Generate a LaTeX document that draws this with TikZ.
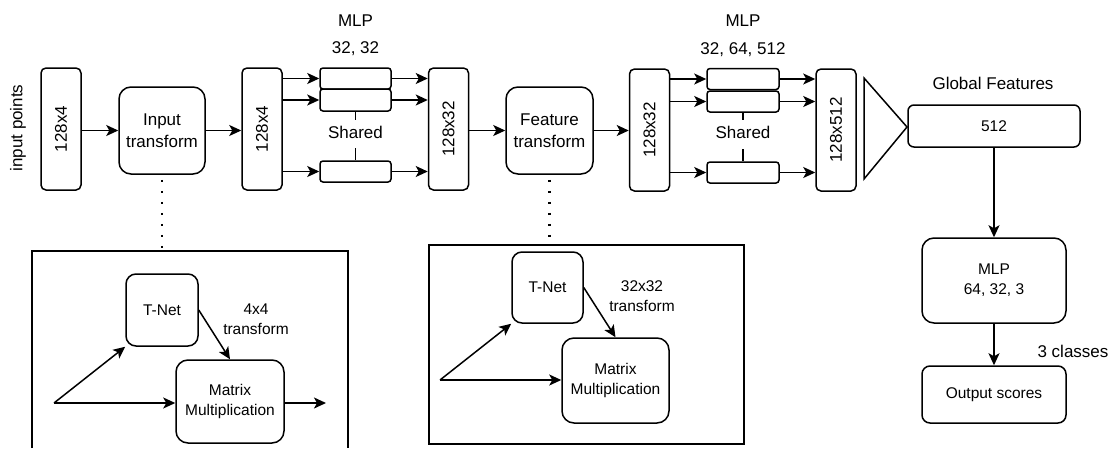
\documentclass[tikz,border=0pt]{standalone}
\usepackage{fontspec}
\setmainfont{Liberation Sans}
\usetikzlibrary{arrows.meta}

\begin{document}
\begin{tikzpicture}[x=1pt,y=-1pt,line width=1.5pt,
  every node/.style={font=\fontsize{17}{22}\selectfont,inner sep=0pt,align=center},
  small/.style={font=\fontsize{15.5}{20}\selectfont},
  tall/.style={draw,rounded corners=5pt,minimum width=40pt,minimum height=122pt},
  layer/.style={draw,rounded corners=3pt,minimum width=71pt,minimum height=21pt},
  block/.style={draw,rounded corners=12pt},
  arr/.style={-{Stealth[length=12pt,width=11pt,inset=3pt]}},
  dots/.style={line width=2.5pt,dash pattern=on 2.5pt off 8.5pt,dash phase=-5pt},
  frame/.style={line width=1.4pt}]
\useasboundingbox (0,0) rectangle (1109,448);

% input side
\node[rotate=90] (inpts) at (18,128) {input points};
\node[tall] (b1) at (61,129) {\rotatebox{90}{128x4}};
\node[block,minimum width=86pt,minimum height=87pt] (inT) at (162,130.5) {Input\\transform};
\node[tall] (b2) at (262,129) {\rotatebox{90}{128x4}};

% first shared MLP
\node (mlp1) at (355.5,21) {MLP};
\node (mlp1d) at (355.5,49) {32, 32};
\node[layer] (m1a) at (355.5,78.5) {};
\node[layer,minimum height=22pt] (m1b) at (355.5,100) {};
\node[layer] (m1c) at (355.5,171.5) {};
\node (sh1) at (355.5,132) {Shared};
\node[tall] (b3) at (448.5,129) {\rotatebox{90}{128x32}};

% feature transform
\node[block,minimum width=87pt,minimum height=87pt] (featT) at (549.5,130.5) {Feature\\transform};
\node[tall] (b4) at (649.5,130) {\rotatebox{90}{128x32}};

% second shared MLP
\node (mlp2) at (743,21) {MLP};
\node (mlp2d) at (743,50) {32, 64, 512};
\node[layer,minimum width=72pt] (m2a) at (743,79) {};
\node[layer,minimum width=72pt,minimum height=21pt] (m2b) at (743,101.5) {};
\node[layer,minimum width=72pt] (m2c) at (743,172.5) {};
\node (sh2) at (743,132) {Shared};
\node[tall] (b5) at (836,130) {\rotatebox{90}{128x512}};

% max pooling and classifier head
\draw (864,78) -- (907,127) -- (864,179) -- cycle;
\node (gfl) at (993,83) {Global Features};
\node[draw,rounded corners=6pt,minimum width=172pt,minimum height=42pt,small] (glob) at (994,126) {512};
\node[block,small,minimum width=144pt,minimum height=85pt] (mlpO) at (994,280.5) {MLP\\64, 32, 3};
\node[draw,rounded corners=8pt,small,minimum width=144pt,minimum height=57pt] (out) at (994,394.5) {Output scores};
\node (cls) at (1073,351) {3 classes};

% main connectors
\draw[arr] (b1.east |- inT) -- (inT.west);
\draw[arr] (inT.east) -- (inT.east -| b2.west);
\foreach \m in {m1a,m1b,m1c}{
  \draw[arr] (b2.east |- \m) -- (\m.west);
  \draw[arr] (\m.east) -- (\m.east -| b3.west);
}
\draw[arr] (b3.east |- featT) -- (featT.west);
\draw[arr] (featT.east) -- (featT.east -| b4.west);
\foreach \m in {m2a,m2b,m2c}{
  \draw[arr] (b4.east |- \m) -- (\m.west);
  \draw[arr] (\m.east) -- (\m.east -| b5.west);
}
\draw (m1b.south) -- (sh1.north |- 0,120);
\draw (sh1.south |- 0,148) -- (m1c.north);
\draw (m2b.south) -- (sh2.north |- 0,120);
\draw (sh2.south |- 0,149) -- (m2c.north);
\draw[arr] (glob.south) -- (mlpO.north);
\draw[arr] (mlpO.south) -- (out.north);

% input transform detail
\coordinate (f1top) at (162,251);
\draw[frame] (32,448) -- (32,251) -- (348,251) -- (348,448);
\draw[dots] (inT.south) -- (f1top);
\node[draw,rounded corners=10pt,small,minimum width=72pt,minimum height=72pt] (tn1) at (162,310) {T-Net};
\node[block,small,minimum width=108pt,minimum height=83pt] (mm1) at (230,401.5) {Matrix\\Multiplication};
\node[small] (t1) at (256,319) {4x4\\transform};
\coordinate (s1) at (54,403);
\coordinate (e1) at (326,403);
\draw[arr] (s1) -- (tn1.south west);
\draw[arr] (s1) -- (s1 -| mm1.west);
\draw[arr] (mm1.east |- e1) -- (e1);
\draw[arr] (tn1.east) -- (mm1.north);

% feature transform detail
\node[draw,frame,minimum width=315pt,minimum height=199pt] (f2) at (586.5,344.5) {};
\draw[dots] (featT.south) -- (f2.north -| featT.south);
\node[draw,rounded corners=10pt,small,minimum width=71pt,minimum height=71pt] (tn2) at (547.5,287.5) {T-Net};
\node[block,small,minimum width=107pt,minimum height=85pt] (mm2) at (615.5,380.5) {Matrix\\Multiplication};
\node[small] (t2) at (642,296) {32x32\\transform};
\coordinate (s2) at (440,380);
\draw[arr] (s2) -- (tn2.south west);
\draw[arr] (s2) -- (s2 -| mm2.west);
\draw[arr] (tn2.east) -- (mm2.north);
\end{tikzpicture}
\end{document}
